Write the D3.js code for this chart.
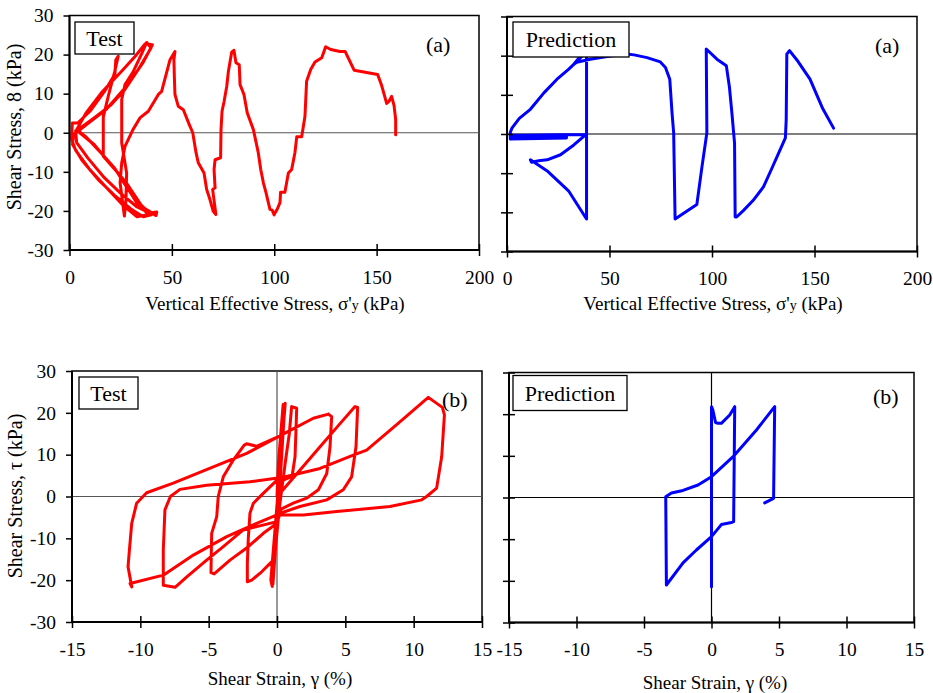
<!DOCTYPE html>
<html><head><meta charset="utf-8">
<script src="https://cdn.jsdelivr.net/npm/d3@7"></script>
<style>
body{margin:0;background:#fff}
text{font-family:"Liberation Serif","Times New Roman",serif;fill:#000}
</style>
</head><body>
<svg id="c" width="933" height="693"></svg>
<script>
// ---------- data ----------
const stressTicks = [0, 50, 100, 150, 200];
const strainTicks = [-15, -10, -5, 0, 5, 10, 15];
const shearTicks = [-30, -20, -10, 0, 10, 20, 30];

// Test: vertical effective stress (kPa) vs shear stress (kPa)
const testStress = [
 [159.3,-0.5],[159.3,3.4],[158.5,7],[157.3,9.3],[156,8],[154.9,7.5],[152.5,12],[150.5,14.9],[139,16],[134.6,20.8],
 [132.1,20.8],[127.6,21.3],[125.1,22],[123.2,19.2],[119.9,18.1],[117.8,16.2],[115.8,13.2],[115,4.2],[113.4,-1],[111,-1],
 [110.1,-5.1],[108.5,-9.4],[106.9,-10.3],[105.2,-15.2],[103.1,-15.2],[102.8,-17.9],[101.5,-19.5],[100.5,-20.4],[99.9,-21],[99,-19.8],
 [97.9,-19.6],[96,-15.4],[94.7,-12.8],[93.4,-9.4],[92.2,-5.1],[89.8,0.8],[86.8,5.1],[85.2,9.8],[83.3,12.3],[82.9,17.4],
 [81.3,17.9],[80.3,21.1],[79.2,20.6],[77.6,15.7],[76.8,11.9],[75.5,8],[74.5,5.5],[74,0.8],[73.8,-6.4],[71.1,-6.9],
 [70.6,-9.4],[71.1,-14.1],[69.9,-14.5],[71.5,-20.9],[70.2,-20.1],[68.6,-17.1],[67,-14.5],[65.7,-10.3],[62.9,-7.7],[61.8,-5.1],
 [60.2,0],[58.5,2.1],[55.6,5.9],[53.1,6.8],[51.5,9.8],[51.2,14.5],[51,18.7],[51.5,20.8],[49.1,18.7],[45,10.6],
 [43.4,9.8],[38.5,5.5],[34.4,3.8],[31,0.8],[27.1,-3.5],[25.5,-7.7],[24.7,-12.8],[26.8,-21.3],
 [27.6,-17],[27.9,-10.3],[25.5,-2.6],[25.5,8.5],[27.1,12.3],[31,15.5],[35.5,20.5],[37.7,23.1],[39.8,21.7],
 [34,16.5],[27,11],[20,7],[12,3.8],[6,1.5],[3,0.5],[3.5,-2.5],[9,-6.5],[17,-11.5],[25,-15.5],[33,-19],[39,-20.5],
 [42.6,-20.3],[42.3,-21.2],[38,-19.8],[32.8,-17.9],[24,-10.5],[16.5,-6],[16.5,4],[19,9.5],[22,15.5],[23.8,19.6],
 [22.6,18.6],[22.2,15],[17,10.5],[10,5.5],[4,2.5],[1.4,2.5],[1,-1.7],[3,-4.5],[10,-9.5],[18,-14],[26,-18.5],[33,-21.5],
 [38.5,-20.9],[34,-18.5],[28,-14],[22,-9],[16,-5.5],[8,-1],[3.5,0.8],[8,5],[16,10.5],[25,15.5],[32,19.5],[37,22.8],
 [40.5,22.5],[36,18],[28,12],[18,6],[8,2],[2,-0.5],[1.5,-3],[6,-7],[14,-12],[22,-16],[30,-19.5],[36,-21.5],
 [40,-21],[35,-18.5],[28,-13],[20,-8],[12,-3],[5,0]
];

// Prediction: vertical effective stress (kPa) vs shear stress (kPa)
const predStress = [
 [159.3,1.5],[154,6.5],[147.8,14],[142,18.5],[137.8,21.3],[136.5,20.4],[136.2,3.7],[135.8,-1],[132.5,-4.9],[129,-9],
 [125.1,-13.5],[120,-17],[115.4,-19.5],[112,-21.2],[111.3,-21.2],[111,-2.3],[109.7,5.4],[108.5,12],[107,17.4],[102.4,19.1],
 [97.2,21.7],[97.5,0.3],[95.1,-8.4],[92.6,-18],[86,-20.3],[82,-21.7],[81.3,0.3],[80.5,5.4],[79.4,14],[77.3,17],
 [74.8,18.4],[68.3,19.5],[62,20.2],[58.5,20.4],[50.4,19.9],[40.6,19.1],[34,18.3],[32.6,17.8],[36,20],[38.8,21.7],
 [38.8,0],[38.8,-21.7],[30,-14.5],[20,-9.6],[11.4,-6.6],[12,-7.2],[15.5,-6.8],[19.6,-6.6],[26.1,-5.3],[32.6,-2.8],
 [38.3,-0.2],[25,-0.2],[10,-0.3],[1.6,-0.3],[1.6,-1.3],[29,-1.0],[29,-0.5],[1.8,-0.6],[1.6,0.4],[2.4,1.5],
 [6,4],[11.4,6.3],[18,10.5],[24.4,14],[30,16.5],[35,19],[38.3,20.8]
];

// Test: shear strain (%) vs shear stress (kPa)
const testStrain = [
 [0,0],[0.1,8],[0.3,16],[0.45,22],[0.55,21],[0.35,12],[0.15,2],[-0.1,-8],[-0.25,-16],[-0.35,-21.5],[-0.45,-20],[-0.2,-10],
 [0.05,0],[0.3,12],[0.55,20],[0.6,22.3],[0.5,18],[0.25,5],[0,-5],[-0.2,-14],[-0.3,-21],
 [-0.1,-12],[0.2,-2],[0.6,8],[0.9,15],[1.07,21.5],[1.44,21.1],
 [1.38,15],[1.32,9.5],[1.1,4.8],[0.5,4],[0,3.9],[-1.12,0.4],[-1.73,-1.6],[-1.98,-4],[-2.1,-10],[-2.17,-16],[-2.17,-20.4],
 [-1.85,-20],[-1.12,-18],[-0.27,-15.2],[0,-8],[0.22,0.8],[1.5,5.6],[3.15,11.9],[4.5,17],[5.71,21.5],[5.9,21.3],
 [5.78,11.9],[5.46,4.7],[4.85,1.6],[3.64,-0.8],[1.68,-2.4],[0.22,-4],[0,-6.4],[-1,-8.8],[-2.1,-12],[-3.44,-15.2],[-4.6,-18.5],[-4.83,-18.2],
 [-4.8,-12],[-4.78,-8.8],[-4.41,-4.8],[-4.3,0],[-3.93,4.7],[-3.2,8.7],[-2.4,12.3],[-2.22,12.6],[-1.5,12],[0.1,14.3],[2.66,18.7],[3.76,19.7],[4.0,19.1],
 [3.88,11.9],[3.64,5.5],[3.03,1.6],[2.17,-0.4],[1.19,-1.6],[0.3,-3],[0,-6],[-2.47,-8],[-3.93,-12],[-5.15,-15.2],[-6.6,-19.2],[-7.46,-21.7],[-8.32,-21.2],
 [-8.32,-12.8],[-8.27,-8.8],[-8.2,-3.2],[-7.8,0],[-7.1,1.7],[-5.15,2.7],[-1.98,3.5],[0.46,4.6],[3.15,6.7],[5.58,9.9],[6.56,11.1],[8.8,17.3],[11.07,23.7],[12.1,21.3],[12.25,19.5],
 [12.05,9.5],[11.68,2],[10.95,0],[10.59,-0.8],[8.27,-2.4],[4.37,-3.6],[1.93,-4.4],[0,-4.4],[-1.49,-6.4],[-3.68,-9.6],[-6.12,-14],[-8.32,-18.8],[-10.75,-20.8],[-10.63,-21.6],
 [-10.9,-16.8],[-10.8,-12.8],[-10.63,-6.4],[-10.27,-1.6],[-9.54,0.9],[-7.59,3.2],[-4.66,7.1],[-2.22,10.3],[0.1,14.3],[2.66,18.7],[3.76,19.7]
];

// Prediction: shear strain (%) vs shear stress (kPa)
const predStrain = [
 [0,0],[0,21.8],[0,-21.4],[0,21.8],[0.1,21],[0.3,18],[0.48,17.8],[0.73,17.8],[1.35,19.8],[1.72,21.8],[1.64,-5.8],[1.47,-6],
 [0.73,-6.5],[0,-9.4],[-1.12,-12.6],[-2.11,-15.7],[-3.34,-21],[-3.39,0.2],[-2.97,1.1],[-2.11,1.7],[-1,3],[0,5],[1.6,9.8],
 [3.33,16.2],[4.68,21.8],[4.6,-0.2],[3.94,-1.3]
];

// ---------- drawing ----------
const svg = d3.select("#c");
const fmt = d => String(d);

function panel(o){
  const x = d3.scaleLinear().domain(o.xd).range([o.l, o.r]);
  const y = d3.scaleLinear().domain([-30, 30]).range([o.b, o.t]);
  const g = svg.append("g");
  g.append("rect").attr("x", o.l).attr("y", o.t).attr("width", o.r - o.l).attr("height", o.b - o.t)
    .attr("fill", "none").attr("stroke", "#000").attr("stroke-width", 1.5);
  g.append("line").attr("x1", o.l).attr("x2", o.r).attr("y1", y(0)).attr("y2", y(0))
    .attr("stroke", o.zc).attr("stroke-width", 1.2);
  if (o.vzero) g.append("line").attr("x1", x(0)).attr("x2", x(0)).attr("y1", o.t).attr("y2", o.b)
    .attr("stroke", o.zc).attr("stroke-width", 1.2);
  const line = d3.line().x(d => x(d[0])).y(d => y(d[1]));
  g.append("path").datum(o.data).attr("d", line).attr("fill", "none")
    .attr("stroke", o.color).attr("stroke-width", 3).attr("stroke-linejoin", "round").attr("stroke-linecap", "round");
  const xa = g.append("g").attr("transform", `translate(0,${o.b})`)
    .call(d3.axisBottom(x).tickValues(o.xt).tickSize(6).tickPadding(14).tickFormat(fmt));
  xa.select(".domain").attr("stroke-width", 2).attr("d", `M${o.l},0H${o.r}`);
  xa.selectAll(".tick line").attr("y1", -6).attr("y2", 6).attr("stroke-width", 1.5);
  xa.selectAll(".tick text").attr("font-size", 19.5);
  const ya = g.append("g").attr("transform", `translate(${o.l},0)`)
    .call(d3.axisLeft(y).tickValues(shearTicks).tickSize(6).tickPadding(10)
      .tickFormat(o.ylab ? fmt : () => ""));
  ya.select(".domain").attr("stroke-width", 2).attr("d", `M0,${o.t}V${o.b}`);
  ya.selectAll(".tick line").attr("x1", -6).attr("x2", o.ylab ? 0 : 6).attr("stroke-width", 1.5);
  ya.selectAll(".tick text").attr("font-size", 19.5);
  g.append("rect").attr("x", o.box[0]).attr("y", o.box[1]).attr("width", o.box[2]).attr("height", o.box[3])
    .attr("fill", "#fff").attr("stroke", "#000").attr("stroke-width", 1.3);
  g.append("text").attr("x", o.box[0] + o.box[2] / 2).attr("y", o.box[1] + o.box[3] / 2 + 7.5)
    .attr("text-anchor", "middle").attr("font-size", 22).text(o.boxText);
  g.append("text").attr("x", o.tag[0]).attr("y", o.tag[1]).attr("font-size", 22).text(o.tagText);
  return {x, y, g};
}

function stressTitle(cx, y){
  const t = svg.append("text").attr("x", cx).attr("y", y).attr("text-anchor", "middle").attr("font-size", 19);
  t.append("tspan").text("Vertical Effective Stress, ");
  t.append("tspan").text("σ'");
  t.append("tspan").attr("font-size", 14).text("y");
  t.append("tspan").text(" (kPa)");
}
function strainTitle(cx, y){
  svg.append("text").attr("x", cx).attr("y", y).attr("text-anchor", "middle").attr("font-size", 19)
    .text("Shear Strain, γ (%)");
}
function yTitle(cx, cy, sym){
  svg.append("text").attr("transform", `translate(${cx},${cy}) rotate(-90)`).attr("text-anchor", "middle")
    .attr("font-size", 20).text(`Shear Stress, ${sym} (kPa)`);
}

panel({l: 69.5, r: 479, t: 15.5, b: 250, xd: [0, 200], xt: stressTicks, data: testStress, color: "#ff0000",
  zc: "#555", vzero: false, ylab: true, box: [75, 22, 59, 32], boxText: "Test", tag: [426, 52], tagText: "(a)"});
panel({l: 507, r: 917, t: 16.5, b: 251.5, xd: [0, 200], xt: stressTicks, data: predStress, color: "#0000ff",
  zc: "#000", vzero: false, ylab: false, box: [513, 22, 116, 35], boxText: "Prediction", tag: [875, 53], tagText: "(a)"});
panel({l: 72, r: 482, t: 371, b: 622, xd: [-15, 15], xt: strainTicks, data: testStrain, color: "#ff0000",
  zc: "#555", vzero: true, ylab: true, box: [79, 377, 59, 32], boxText: "Test", tag: [442, 407], tagText: "(b)"});
panel({l: 509, r: 914, t: 372.5, b: 622.5, xd: [-15, 15], xt: strainTicks, data: predStrain, color: "#0000ff",
  zc: "#000", vzero: true, ylab: false, box: [513, 375.5, 114, 35], boxText: "Prediction", tag: [873, 404], tagText: "(b)"});

stressTitle(275, 310);
stressTitle(713, 310);
strainTitle(280, 685);
strainTitle(715, 689);
yTitle(21, 127, "8");
yTitle(22, 496, "τ");
</script>
</body></html>
